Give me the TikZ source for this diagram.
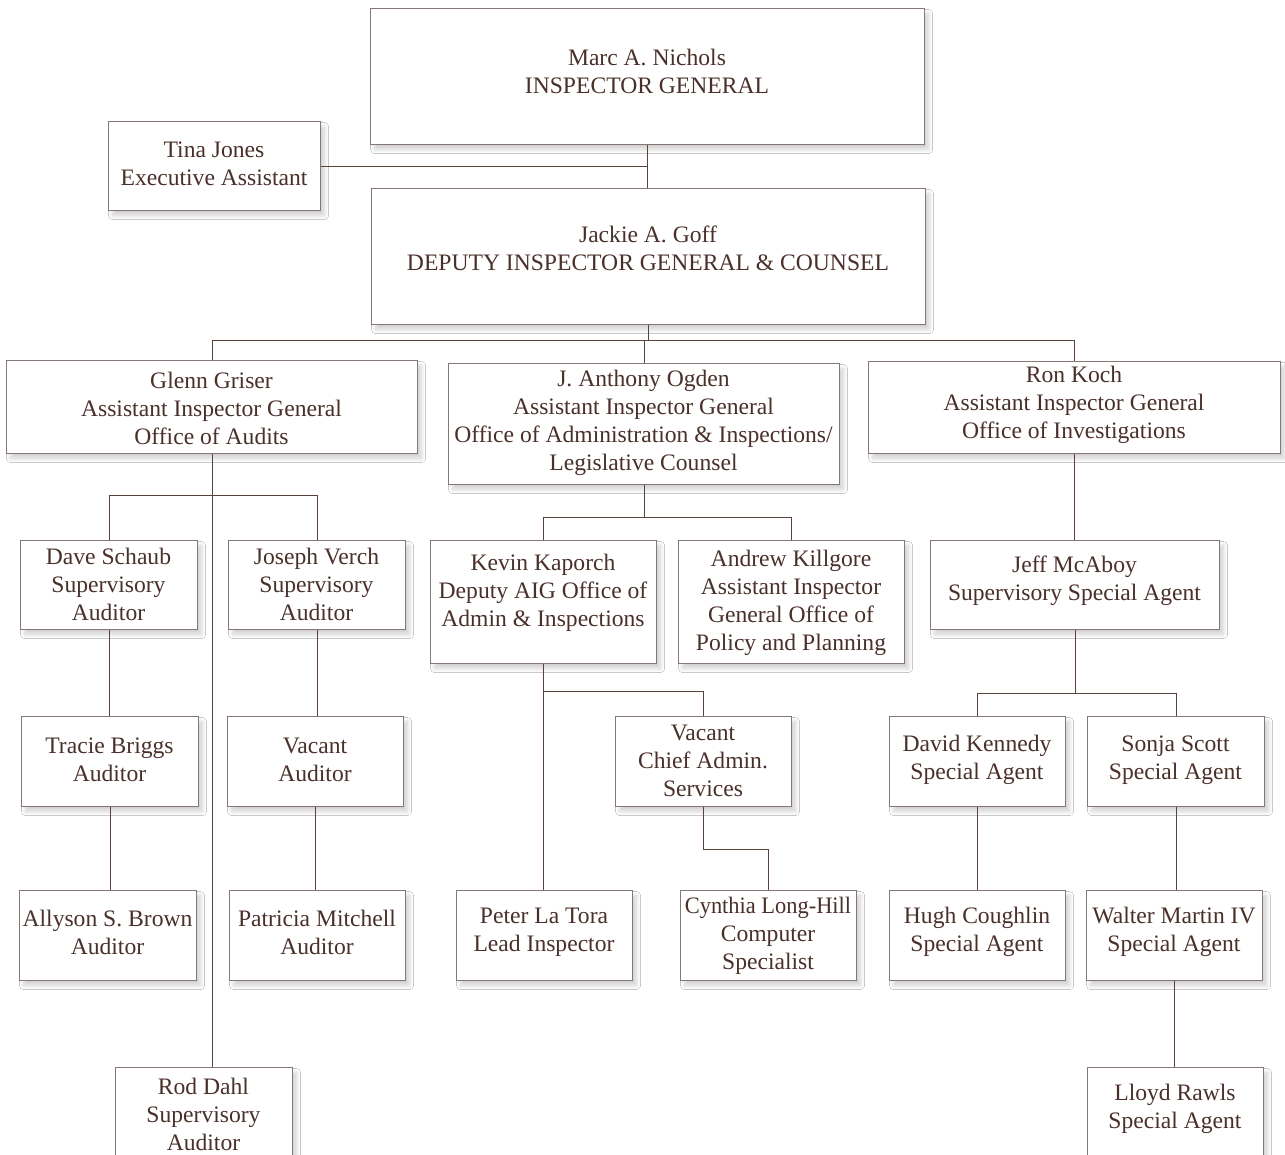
\documentclass[tikz,border=0pt]{standalone}
\usepackage{fontspec}
\setmainfont{Liberation Serif}
\usetikzlibrary{shadows,shadows.blur}
\definecolor{txt}{HTML}{4A302A}
\definecolor{edge}{HTML}{857773}
\definecolor{wire}{HTML}{5A413B}
\tikzset{
  box/.style={draw=edge, line width=1.1pt, fill=white, anchor=north west, inner sep=0pt,
    blur shadow={shadow xshift=4pt, shadow yshift=-5pt, shadow blur steps=8, shadow opacity=18, shadow blur radius=4pt}},
  lbl/.style={align=center, text=txt, font=\fontsize{23.6}{28}\selectfont, inner sep=0pt, anchor=center},
  wire/.style={draw=wire, line width=1pt}
}
% #1 name, #2 x1, #3 y1, #4 x2, #5 y2, #6 text centre y, #7 text
\newcommand{\bx}[7]{\node[box, minimum width=#4-#2, minimum height=#5-#3] (#1) at (#2,#3) {};
  \node[lbl] (#1-t) at ({(#2+#4)/2},#6) {#7};}
\begin{document}
\begin{tikzpicture}[x=1pt,y=-1pt]
\useasboundingbox (0,0) rectangle (1285,1155);
\fill[white] (0,0) rectangle (1285,1155);
% boxes
\bx{ig}{370}{8}{924}{144}{71}{Marc A. Nichols\\INSPECTOR GENERAL}
\bx{tina}{108}{121}{320}{210}{164}{Tina Jones\\Executive Assistant}
\bx{dep}{371}{188}{925}{324}{248}{Jackie A. Goff\\DEPUTY INSPECTOR GENERAL \& COUNSEL}
\bx{glenn}{6}{360}{417}{453}{408}{Glenn Griser\\Assistant Inspector General\\Office of Audits}
\bx{ogden}{448}{363}{839}{484}{423}{J. Anthony Ogden\\Assistant Inspector General\\Office of Administration \& Inspections/\\Legislative Counsel}
\bx{koch}{868}{361}{1280}{453}{405}{Ron Koch\\Assistant Inspector General\\Office of Investigations}
\bx{dave}{20}{540}{197}{629}{584}{Dave Schaub\\Supervisory\\Auditor}
\bx{verch}{228}{540}{405}{629}{584}{Joseph Verch\\Supervisory\\Auditor}
\bx{tracie}{21}{716}{198}{806}{760}{Tracie Briggs\\Auditor}
\bx{vacaud}{227}{716}{403}{806}{760}{Vacant\\Auditor}
\bx{allyson}{19}{890}{196}{980}{932}{Allyson S. Brown\\Auditor}
\bx{patricia}{229}{890}{405}{980}{932}{Patricia Mitchell\\Auditor}
\bx{rod}{115}{1067}{292}{1167}{1114}{Rod Dahl\\Supervisory\\Auditor}
\bx{kaporch}{430}{540}{656}{663}{593}{Kevin Kaporch\\Deputy AIG Office of\\Admin \& Inspections}
\bx{killgore}{678}{540}{904}{663}{603}{Andrew Killgore\\Assistant Inspector\\General Office of\\Policy and Planning}
\bx{vacchief}{615}{716}{791}{806}{761}{Vacant\\Chief Admin.\\Services}
\bx{peter}{456}{890}{632}{980}{932}{Peter La Tora\\Lead Inspector}
\bx{cynthia}{680}{890}{856}{980}{936}{\scalebox{0.95}[1]{Cynthia Long-Hill}\\Computer\\Specialist}
\bx{mcaboy}{930}{540}{1219}{629}{581}{Jeff McAboy\\Supervisory Special Agent}
\bx{kennedy}{889}{716}{1065}{806}{760}{David Kennedy\\Special Agent}
\bx{scott}{1087}{716}{1264}{806}{760}{Sonja Scott\\Special Agent}
\bx{hugh}{889}{890}{1065}{980}{932}{Hugh Coughlin\\Special Agent}
\bx{walter}{1086}{890}{1262}{980}{932}{Walter Martin IV\\Special Agent}
\bx{lloyd}{1087}{1067}{1263}{1157}{1109}{Lloyd Rawls\\Special Agent}
% connectors
\draw[wire] (ig.south) -- (ig.south|-dep.north);
\draw[wire] (tina.east) -- (ig.south|-tina.east);
\coordinate (b1) at (645,341);
\draw[wire] (dep.south) -- (dep.south|-b1);
\draw[wire] (ogden.north|-b1) -- (ogden.north);
\draw[wire] (glenn.north) -- (glenn.north|-b1) -- (koch.north|-b1) -- (koch.north);
% audits
\draw[wire] (glenn.south) -- (glenn.south|-rod.north);
\coordinate (b2) at (212,495);
\draw[wire] (dave.north) -- (dave.north|-b2) -- (verch.north|-b2) -- (verch.north);
\draw[wire] (dave.south) -- (dave.south|-tracie.north);
\draw[wire] (tracie.south) -- (tracie.south|-allyson.north);
\draw[wire] (verch.south) -- (verch.south|-vacaud.north);
\draw[wire] (vacaud.south) -- (vacaud.south|-patricia.north);
% admin
\coordinate (b3) at (645,517);
\draw[wire] (ogden.south) -- (ogden.south|-b3);
\draw[wire] (kaporch.north) -- (kaporch.north|-b3) -- (killgore.north|-b3) -- (killgore.north);
\draw[wire] (kaporch.south) -- (kaporch.south|-peter.north);
\coordinate (b4) at (544,691);
\draw[wire] (kaporch.south|-b4) -- (vacchief.north|-b4) -- (vacchief.north);
\coordinate (b5) at (702,849);
\draw[wire] (vacchief.south) -- (vacchief.south|-b5) -- (cynthia.north|-b5) -- (cynthia.north);
% investigations
\draw[wire] (koch.south) -- (koch.south|-mcaboy.north);
\coordinate (b6) at (1075,693);
\draw[wire] (mcaboy.south) -- (mcaboy.south|-b6);
\draw[wire] (kennedy.north) -- (kennedy.north|-b6) -- (scott.north|-b6) -- (scott.north);
\draw[wire] (kennedy.south) -- (kennedy.south|-hugh.north);
\draw[wire] (scott.south) -- (scott.south|-walter.north);
\draw[wire] (walter.south) -- (walter.south|-lloyd.north);
\end{tikzpicture}
\end{document}
